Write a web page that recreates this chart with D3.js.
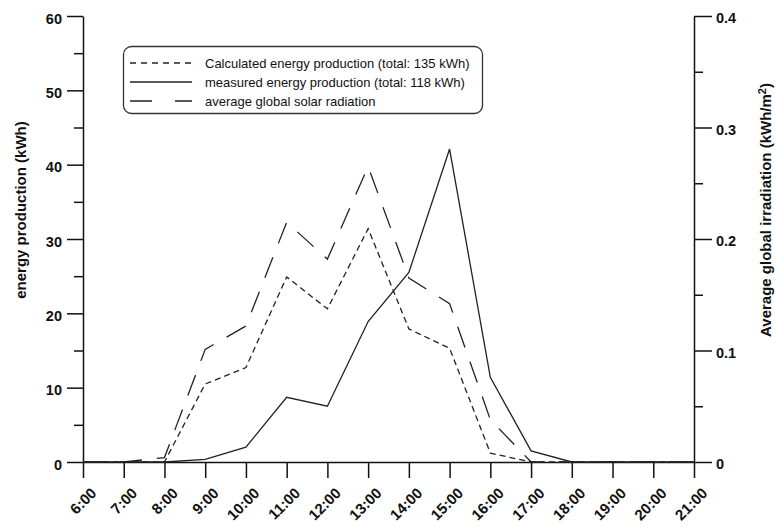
<!DOCTYPE html>
<html>
<head>
<meta charset="utf-8">
<script src="https://cdn.jsdelivr.net/npm/d3@7"></script>
<style>
  html, body { margin: 0; padding: 0; background: #fff; }
  svg { display: block; font-family: "Liberation Sans", Arial, Helvetica, sans-serif; }
</style>
</head>
<body>
<svg id="chart" width="775" height="527"></svg>
<script>
// Hourly values, 6:00 to 21:00
const hours = ["6:00","7:00","8:00","9:00","10:00","11:00","12:00","13:00",
               "14:00","15:00","16:00","17:00","18:00","19:00","20:00","21:00"];
// Calculated energy production, kWh (total 135 kWh)
const calculated = [0, 0, 0, 10.5, 12.7, 24.9, 20.6, 31.4, 17.9, 15.3, 1.2, 0, 0, 0, 0, 0];
// Measured energy production, kWh (total 118 kWh)
const measured = [0, 0, 0, 0.35, 2.0, 8.7, 7.5, 18.9, 25.5, 42.1, 11.4, 1.5, 0, 0, 0, 0];
// Average global solar radiation, kWh/m2
const radiation = [0, 0, 0.004, 0.101, 0.122, 0.215, 0.182, 0.265, 0.165, 0.142, 0.038, 0, 0, 0, 0, 0];

const leftTicks = [0, 10, 20, 30, 40, 50, 60];
const leftMinor = [5, 15, 25, 35, 45, 55];
const rightTicks = [0, 0.1, 0.2, 0.3, 0.4];
const rightMinor = [0.05, 0.15, 0.25, 0.35];

const legendLabels = [
  "Calculated energy production (total: 135 kWh)",
  "measured energy production (total: 118 kWh)",
  "average global solar radiation"
];

const svg = d3.select("#chart");
const plot = { left: 83, right: 694, top: 16, bottom: 462 };

const x = d3.scalePoint().domain(hours).range([plot.left, plot.right]);
const yL = d3.scaleLinear().domain([0, 60]).range([plot.bottom, plot.top]);
const yR = d3.scaleLinear().domain([0, 0.4]).range([plot.bottom, plot.top]);

const ink = "#111";

function styleAxis(g) {
  g.selectAll("path.domain").attr("stroke", ink).attr("stroke-width", 1.5);
  g.selectAll(".tick line").attr("stroke", ink).attr("stroke-width", 1.5);
}

// Left axis (energy)
const gL = svg.append("g").attr("transform", `translate(${plot.left},0)`)
  .call(d3.axisLeft(yL).tickValues(leftTicks).tickSize(16).tickSizeOuter(0).tickPadding(5));
gL.call(styleAxis);
gL.selectAll("text").attr("font-size", 14.5).attr("font-weight", "bold").attr("fill", ink).attr("dy", "0.5em");
svg.append("g").attr("transform", `translate(${plot.left},0)`)
  .call(d3.axisLeft(yL).tickValues(leftMinor).tickSize(9).tickFormat(""))
  .call(g => g.select("path.domain").remove())
  .call(styleAxis);

// Right axis (irradiation)
const gR = svg.append("g").attr("transform", `translate(${plot.right},0)`)
  .call(d3.axisRight(yR).tickValues(rightTicks).tickSize(18).tickSizeOuter(0).tickPadding(4)
    .tickFormat(d => d === 0 ? "0" : d3.format(".1f")(d)));
gR.call(styleAxis);
gR.selectAll("text").attr("font-size", 14.5).attr("font-weight", "bold").attr("fill", ink).attr("dy", "0.45em");
svg.append("g").attr("transform", `translate(${plot.right},0)`)
  .call(d3.axisRight(yR).tickValues(rightMinor).tickSize(9).tickFormat(""))
  .call(g => g.select("path.domain").remove())
  .call(styleAxis);

// Bottom axis (time of day)
const gX = svg.append("g").attr("transform", `translate(0,${plot.bottom})`)
  .call(d3.axisBottom(x).tickSize(16).tickSizeOuter(0));
gX.call(styleAxis);
gX.selectAll("text")
  .attr("font-size", 15).attr("font-weight", "bold").attr("fill", ink)
  .attr("text-anchor", "end")
  .attr("dy", null)
  .attr("y", null)
  .attr("transform", "translate(14,32) rotate(-45)");

// Axis titles
svg.append("text")
  .attr("transform", `translate(26,210) rotate(-90)`)
  .attr("text-anchor", "middle")
  .attr("font-size", 15).attr("font-weight", "bold").attr("fill", ink)
  .text("energy production (kWh)");

const rt = svg.append("text")
  .attr("transform", `translate(771,210) rotate(-90)`)
  .attr("text-anchor", "middle")
  .attr("font-size", 15).attr("font-weight", "bold").attr("fill", ink);
rt.append("tspan").text("Average global irradiation (kWh/m");
rt.append("tspan").attr("font-size", 11).attr("dy", "-0.45em").text("2");
rt.append("tspan").attr("dy", "0.3em").text(")");

// Series lines
const series = [
  { values: calculated, scale: yL, dash: "6,4" },
  { values: measured, scale: yL, dash: null },
  { values: radiation, scale: yR, dash: "22,15" }
];

series.forEach(s => {
  const line = d3.line()
    .x((d, i) => x(hours[i]))
    .y(d => s.scale(d));
  svg.append("path")
    .datum(s.values)
    .attr("fill", "none")
    .attr("stroke", "#222")
    .attr("stroke-width", 1.3)
    .attr("stroke-linejoin", "miter")
    .attr("stroke-dasharray", s.dash)
    .attr("d", line);
});

// Legend
const legend = svg.append("g");
legend.append("rect")
  .attr("x", 123.5).attr("y", 46.5).attr("width", 359).attr("height", 67)
  .attr("rx", 8).attr("ry", 8)
  .attr("fill", "#fff").attr("stroke", "#333").attr("stroke-width", 1.3);
const legendDash = ["6,5", null, "22,23"];
const rowY = d3.scalePoint().domain(legendLabels).range([63, 101]);
legendLabels.forEach((label, i) => {
  const yy = rowY(label);
  legend.append("line")
    .attr("x1", 130).attr("x2", 192).attr("y1", yy).attr("y2", yy)
    .attr("stroke", "#222").attr("stroke-width", 1.3)
    .attr("stroke-dasharray", legendDash[i]);
  legend.append("text")
    .attr("x", 205).attr("y", yy + 4.5)
    .attr("font-size", 13).attr("fill", ink)
    .text(label);
});
</script>
</body>
</html>
